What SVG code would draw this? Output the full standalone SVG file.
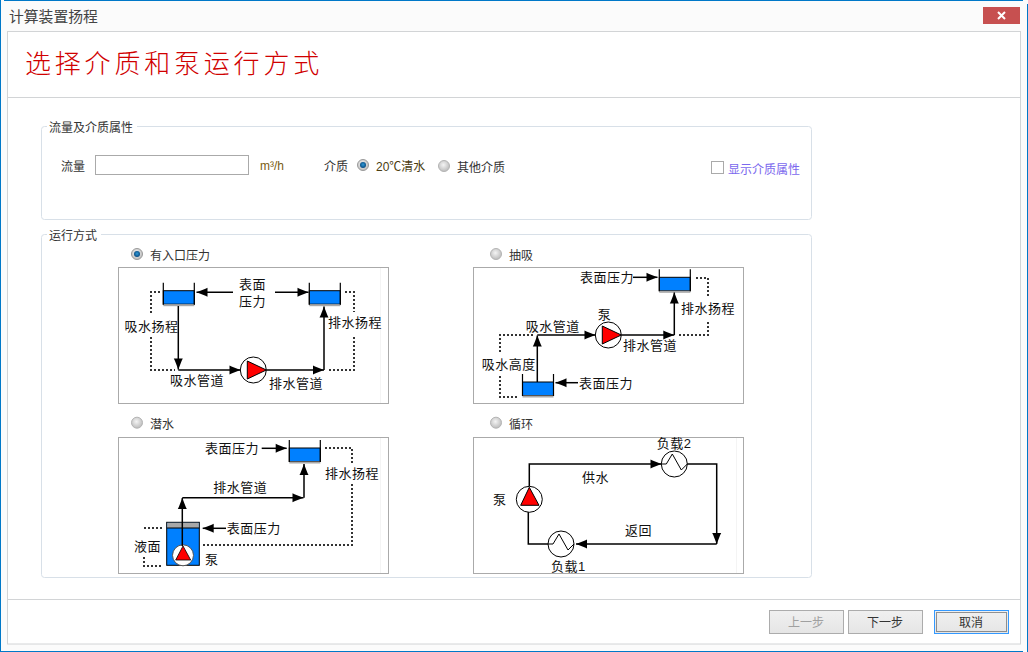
<svg xmlns="http://www.w3.org/2000/svg" width="1028" height="652" viewBox="0 0 1028 652">
<style>
text{font-family:"Liberation Sans","Noto Sans CJK SC",sans-serif;font-size:12px;fill:#333}
.d{font-size:13px;letter-spacing:.5px;fill:#111}
.wire{fill:none;stroke:#000;stroke-width:1.5}
.arr{marker-end:url(#a)}
.dot{fill:none;stroke:#333;stroke-width:2;stroke-dasharray:2 2;shape-rendering:crispEdges}
.panel{fill:#fff;stroke:#aaa;stroke-width:1}
.edge{stroke:#f4f4f4;stroke-width:1}
.grp{fill:#fff;stroke:#d8e0e8;stroke-width:1}
.frame{fill:none;stroke:#d2d4d6;stroke-width:1}
.btn{fill:url(#b);stroke:#acacac;stroke-width:1}
.b-t{text-anchor:middle}
</style>
<defs>
<marker id="a" markerUnits="userSpaceOnUse" markerWidth="13" markerHeight="11" refX="12" refY="5.5" orient="auto" viewBox="0 0 13 11"><path d="M1,1 L3,2 L12,5.5 L3,9 L1,10 Z" fill="#000"/></marker>
<linearGradient id="b" x1="0" y1="0" x2="0" y2="1"><stop offset="0" stop-color="#f0f0f0"/><stop offset="1" stop-color="#e5e5e5"/></linearGradient>
<radialGradient id="rg" cx=".45" cy=".4" r=".6"><stop offset="0" stop-color="#f4f4f4"/><stop offset="1" stop-color="#bcbcbc"/></radialGradient>
<radialGradient id="rb" cx=".5" cy=".45" r=".5"><stop offset="0" stop-color="#2f9ad8"/><stop offset="1" stop-color="#0a4f86"/></radialGradient>
<g id="tank"><rect x="0" y="8" width="31" height="13.5" fill="#0080ff" stroke="#000" stroke-width="1"/><rect x="0" y="21.5" width="31" height="2" fill="#a8a8a8"/><path d="M0,0V22M31,0V22" stroke="#000" stroke-width="1.2" fill="none"/></g>
<g id="radio"><circle r="5.5" fill="url(#rg)" stroke="#b4b4b4" stroke-width="1"/></g>
<g id="radioOn"><circle r="5.5" fill="url(#rg)" stroke="#9a9a9a" stroke-width="1"/><circle r="3" fill="url(#rb)"/></g>
<g id="load"><circle r="13" fill="#fff" stroke="#000" stroke-width="1"/><polyline points="-13,0 -8,0 -2,-10 7,6 13,0" fill="none" stroke="#000" stroke-width="1"/></g>
<g id="pump"><circle r="13" fill="#fff" stroke="#000" stroke-width="1"/><path d="M-6,-9 L13,0 L-6,9 Z" fill="#f00" stroke="#000" stroke-width="1"/></g>
</defs>

<g id="window">
<rect width="1028" height="652" fill="#fbfbfb"/>
<path d="M4,.5H1023M.5,0V652M0,651.5H1023M1027.5,4V652" stroke="#0078c8" stroke-width="1" fill="none"/>
<text x="9" y="22" style="font-size:14.8px;fill:#444">计算装置扬程</text>
<g id="close"><rect x="983" y="7" width="37" height="17" fill="#c75050"/><path d="M998,12L1005,19M1005,12L998,19" stroke="#fff" stroke-width="2"/></g>
<rect x="7.5" y="31.5" width="1013" height="612.5" fill="#fff" stroke="#d2d4d6"/>
<path class="frame" d="M8,97.5H1020M8,599.5H1020"/>
<text x="25" y="73" style="font-size:26px;letter-spacing:3.8px;fill:#d00000;font-weight:300">选择介质和泵运行方式</text>
</g>

<g id="group-flow">
<rect class="grp" x="41.5" y="126.5" width="770" height="93" rx="3"/>
<rect x="47" y="120" width="90" height="14" fill="#fff"/>
<text x="49" y="132">流量及介质属性</text>
<text x="61" y="171">流量</text>
<rect x="95.5" y="155.5" width="153" height="19" fill="#fff" stroke="#aaa"/>
<text x="260" y="170" style="fill:#7a5c10">m³/h</text>
<text x="324" y="171">介质</text>
<use href="#radioOn" x="363" y="165"/>
<text x="376" y="171" style="fill:#4a3c10">20℃清水</text>
<use href="#radio" x="444" y="166"/>
<text x="457" y="172">其他介质</text>
<rect x="711.5" y="161.5" width="12" height="12" fill="#fff" stroke="#aaa"/>
<text x="728" y="174" style="fill:#7b68ee">显示介质属性</text>
</g>

<g id="group-mode">
<rect class="grp" x="41.5" y="234.5" width="770" height="343" rx="3"/>
<rect x="47" y="228" width="54" height="14" fill="#fff"/>
<text x="49" y="240">运行方式</text>
</g>

<g id="mode-inlet">
<use href="#radioOn" x="137" y="254"/>
<text x="150" y="260">有入口压力</text>
<rect class="panel" x="118.5" y="267.5" width="270" height="136"/>
<path class="edge" d="M380.5,268V403"/>
<use href="#tank" x="163.3" y="282.7"/>
<use href="#tank" x="309.3" y="282.7"/>
<use href="#pump" x="253.3" y="370"/>
<g class="connectors">
<path class="wire arr" d="M178.3,306V369.5"/>
<path class="wire arr" d="M178.3,370H240.5"/>
<path class="wire arr" d="M266.5,370H324"/>
<path class="wire arr" d="M324,370V306.5"/>
<path class="wire arr" d="M233,292.3H196.5"/>
<path class="wire arr" d="M275,292.3H308.5"/>
<path class="dot" d="M160,292H151V313M151,337V370H175M345,292H354V312M354,337V370H329"/>
</g>
<text class="d" x="239" y="289">表面</text>
<text class="d" x="239" y="306">压力</text>
<text class="d" x="124.5" y="331">吸水扬程</text>
<text class="d" x="328" y="327">排水扬程</text>
<text class="d" x="170" y="385">吸水管道</text>
<text class="d" x="269" y="388">排水管道</text>
</g>

<g id="mode-suction">
<use href="#radio" x="496" y="254"/>
<text x="509" y="260">抽吸</text>
<rect class="panel" x="473.5" y="267.5" width="270" height="136"/>
<use href="#tank" x="659.3" y="269.3"/>
<use href="#tank" x="522.5" y="374"/>
<use href="#pump" x="608.3" y="335"/>
<g class="connectors">
<path class="wire arr" d="M537.3,382V335.5"/>
<path class="wire arr" d="M537.3,335H595.5"/>
<path class="wire arr" d="M621.5,335H674.3"/>
<path class="wire arr" d="M674.3,335V292.5"/>
<path class="wire arr" d="M633,277.3H657.5"/>
<path class="wire arr" d="M578,382.7H555.5"/>
<path class="dot" d="M696,278H708V298M708,322V335H679M533,335H500V352M500,376V397H518"/>
</g>
<text class="d" x="580" y="282">表面压力</text>
<text class="d" x="597.7" y="319">泵</text>
<text class="d" x="525.7" y="331">吸水管道</text>
<text class="d" x="623" y="350">排水管道</text>
<text class="d" x="681" y="313">排水扬程</text>
<text class="d" x="481.7" y="369">吸水高度</text>
<text class="d" x="579" y="388">表面压力</text>
</g>

<g id="mode-submersible">
<use href="#radio" x="137" y="422.7"/>
<text x="150" y="429">潜水</text>
<rect class="panel" x="118.5" y="437.5" width="270" height="136"/>
<path class="edge" d="M380.5,438V573"/>
<use href="#tank" x="289.3" y="440"/>
<rect x="166.7" y="522.3" width="32.6" height="43" fill="#0080ff" stroke="#000"/>
<rect x="167.2" y="522.8" width="31.6" height="5.2" fill="#a8a8a8"/>
<path d="M166.7,528H199.3" stroke="#000"/>
<circle cx="183" cy="555.3" r="10.5" fill="#fff" stroke="#555"/>
<path d="M183,546L175.7,560H190.7Z" fill="#f00" stroke="#000" stroke-width=".8"/>
<g class="connectors">
<path class="wire arr" d="M182.3,546V498"/>
<path class="wire arr" d="M182.3,497.7H303.5"/>
<path class="wire arr" d="M304,497.7V464"/>
<path class="wire arr" d="M261.7,448.3H286.7"/>
<path class="wire arr" d="M226,528.3H202.7"/>
<path class="dot" d="M144,528H162M144,557V566H162M203,545H352V484M352,463V448H323"/>
</g>
<text class="d" x="205" y="453">表面压力</text>
<text class="d" x="213.3" y="492">排水管道</text>
<text class="d" x="325" y="478">排水扬程</text>
<text class="d" x="134" y="551">液面</text>
<text class="d" x="226.7" y="533">表面压力</text>
<text class="d" x="205" y="564">泵</text>
</g>

<g id="mode-circulation">
<use href="#radio" x="496" y="422.7"/>
<text x="509" y="429">循环</text>
<rect class="panel" x="473.5" y="437.5" width="270" height="136"/>
<path class="edge" d="M736.5,438V573"/>
<g class="connectors">
<path class="wire arr" d="M529.3,487V464H661.5"/>
<path class="wire arr" d="M687,464H716.7V544"/>
<path class="wire arr" d="M716.7,544H576"/>
<path class="wire" d="M548,544H528.3V512"/>
</g>
<use href="#load" x="674.3" y="464"/>
<use href="#load" x="561" y="544"/>
<g id="pump4"><circle cx="529.3" cy="499.3" r="13" fill="#fff" stroke="#000"/><path d="M529.3,487.3L520.7,505.3H539Z" fill="#f00" stroke="#000"/></g>
<text class="d" x="656.7" y="448">负载2</text>
<text class="d" x="582" y="482">供水</text>
<text class="d" x="493" y="504">泵</text>
<text class="d" x="625" y="535">返回</text>
<text class="d" x="551" y="571">负载1</text>
</g>

<g id="buttons">
<g id="btn-prev"><rect class="btn" x="769.5" y="610.5" width="74" height="23"/><text class="b-t" x="806" y="627" style="fill:#a0a0a0">上一步</text></g>
<g id="btn-next"><rect class="btn" x="848.5" y="610.5" width="74" height="23"/><text class="b-t" x="885" y="627">下一步</text></g>
<g id="btn-cancel"><rect class="btn" x="934.5" y="610.5" width="74" height="23" style="stroke:#3399ff"/><rect x="936.5" y="612.5" width="70" height="19" fill="none" stroke="#333" stroke-dasharray="1 1"/><text class="b-t" x="971" y="627">取消</text></g>
</g>
</svg>
